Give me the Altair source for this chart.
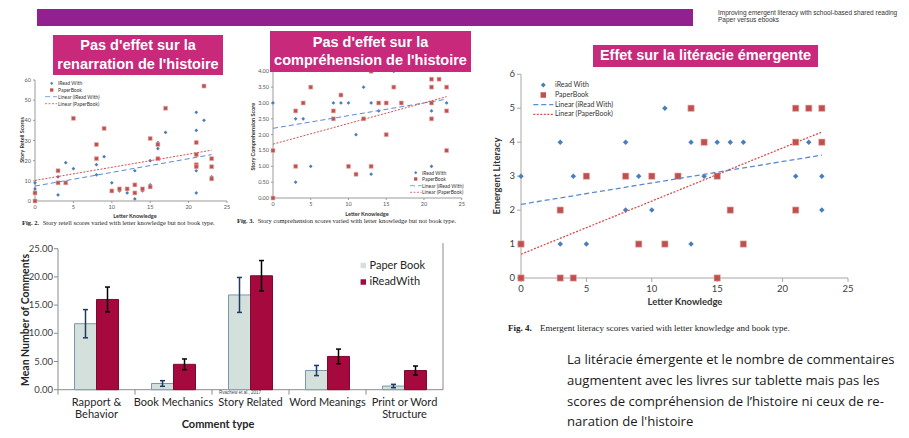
import altair as alt
import pandas as pd

# ================= data =================
letter_ticks = [0, 5, 10, 15, 20, 25]
trend_x = [0, 23]

# Fig. 2 - story retell scores
f2_iread_x = [0, 0, 3, 3, 4, 5, 8, 8, 9, 10, 11, 12, 13, 13, 14, 15, 15, 16, 16, 17, 21, 21, 21, 21, 22, 23]
f2_iread_y = [9, 6, 12, 3, 19, 16, 18, 13, 22, 9, 5, 4, 15, 1, 5, 20, 8, 29, 26, 34, 44, 35, 15, 4, 40, 12]
f2_paper_x = [0, 0, 3, 3, 4, 5, 8, 8, 9, 10, 11, 12, 13, 13, 14, 15, 15, 16, 16, 17, 21, 21, 21, 21, 22, 23, 23, 23]
f2_paper_y = [4, 0, 15, 9, 9, 41, 28, 21, 36, 5, 6, 6, 8, 4, 6, 31, 7, 28, 21, 46, 29, 23, 18, 17, 57, 21, 17, 11]
f2_yticks = [0, 10, 20, 30, 40, 50, 60]
f2_ylabels = ["0", "10", "20", "30", "40", "50", "60"]
f2_trend_iread = [7.4, 23.0]
f2_trend_paper = [10.2, 25.2]

# Fig. 3 - story comprehension scores
f3_iread_x = [0, 3, 3, 4, 5, 8, 9, 10, 11, 12, 13, 13, 14, 16, 21, 21, 21, 23]
f3_iread_y = [3, 2.5, 0.5, 2.5, 1, 3, 3, 3, 2, 3.5, 3, 0.75, 2.75, 4, 3, 2.75, 1, 3]
f3_paper_x = [0, 0, 3, 3, 4, 5, 8, 8, 9, 10, 11, 12, 13, 13, 14, 15, 15, 16, 17, 21, 21, 21, 21, 22, 23, 23, 23]
f3_paper_y = [1.5, 0, 2.75, 1, 3, 3.5, 2.75, 2.5, 3.25, 1, 0.75, 2.5, 4, 1, 3, 3, 2, 3.5, 3, 3.75, 3.5, 3, 2.5, 3.75, 3.5, 2.75, 1.5]
f3_yticks = [0, 0.5, 1, 1.5, 2, 2.5, 3, 3.5, 4]
f3_ylabels = ["0.00", "0.50", "1.00", "1.50", "2.00", "2.50", "3.00", "3.50", "4.00"]
f3_trend_iread = [2.2, 3.12]
f3_trend_paper = [1.7, 3.2]

# Fig. 4 - emergent literacy
f4_iread_x = [0, 3, 3, 4, 5, 8, 8, 9, 10, 11, 13, 13, 14, 15, 16, 17, 21, 22, 23, 23]
f4_iread_y = [3, 4, 1, 3, 1, 4, 2, 3, 2, 5, 4, 1, 3, 4, 4, 4, 3, 4, 3, 2]
f4_paper_x = [0, 0, 3, 3, 4, 5, 8, 9, 10, 11, 12, 13, 14, 15, 15, 16, 17, 21, 21, 21, 22, 23, 23]
f4_paper_y = [1, 0, 2, 0, 0, 3, 3, 1, 3, 1, 3, 5, 4, 3, 0, 2, 1, 5, 4, 2, 5, 5, 4]
f4_yticks = [0, 1, 2, 3, 4, 5, 6]
f4_ylabels = ["0", "1", "2", "3", "4", "5", "6"]
f4_trend_iread = [2.17, 3.62]
f4_trend_paper = [0.70, 4.30]

# Bar chart - comments by type
categories = ["Rapport &\nBehavior", "Book Mechanics", "Story Related", "Word Meanings", "Print or Word\nStructure"]
paper_mean = [11.7, 1.1, 16.8, 3.4, 0.65]
paper_err = [2.5, 0.5, 3.1, 0.9, 0.3]
iread_mean = [16.0, 4.5, 20.2, 5.9, 3.4]
iread_err = [2.2, 0.95, 2.7, 1.3, 0.8]
bar_yticks = [0, 5, 10, 15, 20, 25]
bar_ylabels = ["0.00", "5.00", "10.00", "15.00", "20.00", "25.00"]

# ================= styling helpers =================
BLUE = "#4a7ebb"
RED = "#c0504d"
PINK = "#c8297b"
PURPLE = "#93208f"
ONE = pd.DataFrame({"k": [0]})


def P(v):  # page pixel -> canvas pixel (8px page margin)
    return v - 8


def vtext(text, x, y, size, font="Lato", **kw):
    return alt.Chart(ONE).mark_text(text=text, fontSize=size, font=font, **kw).encode(
        x=alt.value(P(x)), y=alt.value(P(y)))


def vrect(x0, x1, y0, y1, color):
    return alt.Chart(ONE).mark_rect(color=color).encode(
        x=alt.value(P(x0)), x2=alt.value(P(x1)), y=alt.value(P(y0)), y2=alt.value(P(y1)))


def vrule(x0, x1, y0, y1, color, width=1.0, dash=None):
    kw = {"strokeDash": dash} if dash else {}
    return alt.Chart(ONE).mark_rule(color=color, strokeWidth=width, **kw).encode(
        x=alt.value(P(x0)), x2=alt.value(P(x1)), y=alt.value(P(y0)), y2=alt.value(P(y1)))


def vpoint(x, y, shape, size, color):
    return alt.Chart(ONE).mark_point(shape=shape, size=size, filled=True, color=color, opacity=1).encode(
        x=alt.value(P(x)), y=alt.value(P(y)))


def scatter_panel(c, ix, iy, px_, py_, t_i, t_p, yticks, ylabels, ymax):
    sx = alt.Scale(domain=[0, 25], range=[P(c["x0"]), P(c["x1"])], nice=False, zero=False)
    sy = alt.Scale(domain=[0, ymax], range=[P(c["yb"]), P(c["yt"])], nice=False, zero=False)

    def X(f):
        return alt.X(f, type="quantitative", scale=sx, axis=None)

    def Y(f):
        return alt.Y(f, type="quantitative", scale=sy, axis=None)

    frame = pd.DataFrame({"a": [0], "b": [25], "c": [0], "d": [ymax]})
    xt = pd.DataFrame({"v": letter_ticks, "z": [0] * len(letter_ticks),
                       "lab": [str(t) for t in letter_ticks]})
    yt = pd.DataFrame({"v": yticks, "z": [0] * len(yticks), "lab": ylabels})
    di = pd.DataFrame({"x": ix, "y": iy})
    dp = pd.DataFrame({"x": px_, "y": py_})
    ti = pd.DataFrame({"x": trend_x, "y": t_i})
    tp = pd.DataFrame({"x": trend_x, "y": t_p})
    ac = c["axis_color"]
    tk = c["tick"]
    layers = [
        alt.Chart(frame).mark_rule(color=ac).encode(x=X("a"), x2=alt.X2("b"), y=Y("c")),
        alt.Chart(frame).mark_rule(color=ac).encode(x=X("a"), y=Y("c"), y2=alt.Y2("d")),
        alt.Chart(xt).mark_rule(color=ac, y2Offset=tk).encode(x=X("v"), y=Y("z"), y2=alt.Y2("z")),
        alt.Chart(yt).mark_rule(color=ac, x2Offset=-tk).encode(x=X("z"), x2=alt.X2("z"), y=Y("v")),
        alt.Chart(xt).mark_text(baseline="top", dy=tk + 2, fontSize=c["fs"], font="Lato",
                                color=c["label_color"]).encode(x=X("v"), y=Y("z"), text="lab:N"),
        alt.Chart(yt).mark_text(align="right", baseline="middle", dx=-(tk + 2), fontSize=c["fs"],
                                font="Lato", color=c["label_color"]).encode(x=X("z"), y=Y("v"), text="lab:N"),
        alt.Chart(di).mark_point(shape="diamond", filled=True, opacity=1, color=BLUE,
                                 size=c["dsize"]).encode(x=X("x"), y=Y("y")),
        alt.Chart(dp).mark_point(shape="square", filled=True, opacity=1, color=RED,
                                 stroke="#e8b4b2", strokeWidth=0.6,
                                 size=c["ssize"]).encode(x=X("x"), y=Y("y")),
        alt.Chart(ti).mark_line(color="#5a8ad0", strokeDash=[5, 3], strokeWidth=c["lw"]).encode(
            x=X("x"), y=Y("y")),
        alt.Chart(tp).mark_line(color="#d6504e", strokeDash=[2, 1.5], strokeWidth=c["lw"]).encode(
            x=X("x"), y=Y("y")),
    ]
    return alt.layer(*layers)


def legend(x_sym, x_line0, x_line1, x_text, ys, fs, dsize, ssize, lw):
    y1, y2, y3, y4 = ys
    return [
        vpoint(x_sym, y1, "diamond", dsize, BLUE),
        vpoint(x_sym, y2, "square", ssize, RED),
        vrule(x_line0, x_line1, y3, y3, "#5a8ad0", lw, [5, 3]),
        vrule(x_line0, x_line1, y4, y4, "#d6504e", lw, [2, 1.5]),
        vtext("iRead With", x_text, y1, fs, align="left", baseline="middle", color="#333333"),
        vtext("PaperBook", x_text, y2, fs, align="left", baseline="middle", color="#333333"),
        vtext("Linear (iRead With)", x_text, y3, fs, align="left", baseline="middle", color="#333333"),
        vtext("Linear (PaperBook)", x_text, y4, fs, align="left", baseline="middle", color="#333333"),
    ]


# ================= panels =================
small = dict(axis_color="#9a9a9a", tick=2, fs=5.5, label_color="#555555", dsize=14, ssize=16, lw=1)

fig2 = scatter_panel(dict(small, x0=35, x1=227, yb=201, yt=80), f2_iread_x, f2_iread_y,
                     f2_paper_x, f2_paper_y, f2_trend_iread, f2_trend_paper, f2_yticks, f2_ylabels, 60)
fig3 = scatter_panel(dict(small, x0=273, x1=461.7, yb=198, yt=71.3), f3_iread_x, f3_iread_y,
                     f3_paper_x, f3_paper_y, f3_trend_iread, f3_trend_paper, f3_yticks, f3_ylabels, 4)
fig4 = scatter_panel(dict(axis_color="#a6a6a6", tick=4, fs=9.5, label_color="#404040", dsize=30,
                          ssize=40, lw=1.3, x0=521, x1=848, yb=278, yt=74.3),
                     f4_iread_x, f4_iread_y, f4_paper_x, f4_paper_y, f4_trend_iread, f4_trend_paper,
                     f4_yticks, f4_ylabels, 6)

# ---- bar chart ----
sxb = alt.Scale(domain=categories, range=[P(58), P(443)], paddingInner=0, paddingOuter=0)
syb = alt.Scale(domain=[0, 25], range=[P(389.7), P(248.7)], nice=False, zero=False)
bar_df = pd.DataFrame({
    "cat": categories,
    "paper": paper_mean,
    "paper_lo": [m - e for m, e in zip(paper_mean, paper_err)],
    "paper_hi": [m + e for m, e in zip(paper_mean, paper_err)],
    "iread": iread_mean,
    "iread_lo": [m - e for m, e in zip(iread_mean, iread_err)],
    "iread_hi": [m + e for m, e in zip(iread_mean, iread_err)],
    "z": [0] * len(categories),
})
byt = pd.DataFrame({"v": bar_yticks, "lab": bar_ylabels})


def BX(bp=None):
    if bp is None:
        return alt.X("cat:N", scale=sxb, axis=None)
    return alt.X("cat:N", scale=sxb, axis=None, bandPosition=bp)


def BY(f):
    return alt.Y(f, type="quantitative", scale=syb, axis=None)


bar_layers = [
    # axes
    alt.Chart(byt).mark_rule(color="#8c8c8c").encode(x=alt.value(P(58)), x2=alt.value(P(54)), y=BY("v")),
    alt.Chart(pd.DataFrame({"a": [0], "b": [25]})).mark_rule(color="#8c8c8c").encode(
        x=alt.value(P(58)), y=BY("a"), y2=alt.Y2("b")),
    alt.Chart(pd.DataFrame({"a": [0]})).mark_rule(color="#8c8c8c").encode(
        x=alt.value(P(58)), x2=alt.value(P(443)), y=BY("a")),
    alt.Chart(bar_df).mark_rule(color="#8c8c8c", y2Offset=5).encode(x=BX(0), y=BY("z"), y2=alt.Y2("z")),
    alt.Chart(byt).mark_text(align="right", baseline="middle", fontSize=9.5, font="Lato",
                             color="#404040").encode(x=alt.value(P(53)), y=BY("v"), text="lab:N"),
    alt.Chart(bar_df).mark_text(baseline="top", fontSize=11, font="Lato", lineBreak="\n", lineHeight=12.5,
                                color="#262626").encode(x=BX(), y=alt.value(P(396.5)), text="cat:N"),
    # bars
    alt.Chart(bar_df).mark_bar(width=22, xOffset=-11, color="#d3e0dc", stroke="#7c97ad",
                               strokeWidth=1).encode(x=BX(), y=BY("paper"), y2=alt.Y2("z")),
    alt.Chart(bar_df).mark_bar(width=22, xOffset=11, color="#a6093d", stroke="#7d0a2e",
                               strokeWidth=1).encode(x=BX(), y=BY("iread"), y2=alt.Y2("z")),
    # error bars
    alt.Chart(bar_df).mark_rule(color="#1f3a63", strokeWidth=1.5, xOffset=-11).encode(
        x=BX(), y=BY("paper_lo"), y2=alt.Y2("paper_hi")),
    alt.Chart(bar_df).mark_tick(orient="horizontal", size=5, thickness=1.5, color="#1f3a63",
                                xOffset=-11, opacity=1).encode(x=BX(), y=BY("paper_lo")),
    alt.Chart(bar_df).mark_tick(orient="horizontal", size=5, thickness=1.5, color="#1f3a63",
                                xOffset=-11, opacity=1).encode(x=BX(), y=BY("paper_hi")),
    alt.Chart(bar_df).mark_rule(color="#000000", strokeWidth=1.5, xOffset=11).encode(
        x=BX(), y=BY("iread_lo"), y2=alt.Y2("iread_hi")),
    alt.Chart(bar_df).mark_tick(orient="horizontal", size=5, thickness=1.5, color="#000000",
                                xOffset=11, opacity=1).encode(x=BX(), y=BY("iread_lo")),
    alt.Chart(bar_df).mark_tick(orient="horizontal", size=5, thickness=1.5, color="#000000",
                                xOffset=11, opacity=1).encode(x=BX(), y=BY("iread_hi")),
]
bars = alt.layer(*bar_layers)

# ================= decorations / text =================
deco = [
    # header
    vrect(37, 693, 9, 26, PURPLE),
    vtext("Improving emergent literacy with school-based shared reading", 718, 13, 6.5,
          font="Liberation Sans", align="left", baseline="middle", color="#333333"),
    vtext("Paper versus ebooks", 718, 20, 6.5, font="Liberation Sans", align="left",
          baseline="middle", color="#333333"),
    # fig 2 texts
    vtext("Letter Knowledge", 135, 216, 5.5, fontWeight="bold", color="#333333"),
    vtext("Story Retell Scores", 22, 140, 5.5, fontWeight="bold", angle=270, color="#333333"),
    vtext("Fig. 2.", 22, 223, 6.5, font="Liberation Serif", fontWeight="bold", align="left",
          baseline="middle", color="#222222"),
    vtext("Story retell scores varied with letter knowledge but not book type.", 42.7, 223, 6.5,
          font="Liberation Serif", align="left", baseline="middle", color="#222222"),
    # fig 3 texts
    vtext("Letter Knowledge", 367, 214, 5.5, fontWeight="bold", color="#333333"),
    vtext("Story Comprehension Score", 253, 136.7, 5.5, fontWeight="bold", angle=270, color="#333333"),
    vtext("Fig. 3.", 237, 221, 6.5, font="Liberation Serif", fontWeight="bold", align="left",
          baseline="middle", color="#222222"),
    vtext("Story comprehension scores varied with letter knowledge but not book type.", 257.7, 221, 6.5,
          font="Liberation Serif", align="left", baseline="middle", color="#222222"),
    # fig 4 texts
    vtext("Letter Knowledge", 685, 302, 9.5, fontWeight="bold", baseline="middle", color="#333333"),
    vtext("Emergent Literacy", 497, 176, 9.5, fontWeight="bold", angle=270, baseline="middle",
          color="#333333"),
    vtext("Fig. 4.", 508, 328, 9, font="Liberation Serif", fontWeight="bold", align="left",
          baseline="middle", color="#222222"),
    vtext("Emergent literacy scores varied with letter knowledge and book type.", 540, 328, 9,
          font="Liberation Serif", align="left", baseline="middle", color="#222222"),
    # bar chart texts
    vtext("Mean Number of Comments", 26, 320, 10.5, fontWeight="bold", angle=270, baseline="middle",
          color="#262626"),
    vtext("Comment type", 218, 424.5, 11, fontWeight="bold", baseline="middle", color="#262626"),
    vtext("Rvachew et al., 2017", 240, 392.5, 4.5, font="Liberation Sans", baseline="middle",
          color="#444444"),
    vrule(443, 443, 243, 390, "#8c8c8c"),
    vpoint(363.3, 265.5, "square", 30, "#d3e0dc"),
    vpoint(363.3, 282, "square", 30, "#a6093d"),
    vtext("Paper Book", 369.5, 265.5, 11, align="left", baseline="middle", color="#262626"),
    vtext("iReadWith", 369.5, 282, 11, align="left", baseline="middle", color="#262626"),
    # conclusion text
    vtext("La litéracie émergente et le nombre de commentaires", 567, 360, 13.1, font="Open Sans",
          align="left", baseline="middle", color="#1a1a1a"),
    vtext("augmentent avec les livres sur tablette mais pas les", 567, 381, 13.1, font="Open Sans",
          align="left", baseline="middle", color="#1a1a1a"),
    vtext("scores de compréhension de l’histoire ni ceux de re-", 567, 402, 13.1, font="Open Sans",
          align="left", baseline="middle", color="#1a1a1a"),
    vtext("naration de l'histoire", 567, 422, 13.1, font="Open Sans", align="left",
          baseline="middle", color="#1a1a1a"),
    # title boxes
    vrect(53, 223, 35, 75, PINK),
    vtext("Pas d'effet sur la", 138, 46, 14.5, font="Liberation Sans", fontWeight="bold",
          baseline="middle", color="white"),
    vtext("renarration de l'histoire", 138, 65, 14.5, font="Liberation Sans", fontWeight="bold",
          baseline="middle", color="white"),
    vrect(270, 471, 31, 72, PINK),
    vtext("Pas d'effet sur la", 370.5, 42.5, 14.5, font="Liberation Sans", fontWeight="bold",
          baseline="middle", color="white"),
    vtext("compréhension de l'histoire", 370.5, 61, 14.5, font="Liberation Sans", fontWeight="bold",
          baseline="middle", color="white"),
    vrect(593, 818, 45, 67, PINK),
    vtext("Effet sur la litéracie émergente", 705.5, 56, 14.5, font="Liberation Sans",
          fontWeight="bold", baseline="middle", color="white"),
]
deco += legend(51.7, 45, 57, 58, (83.3, 90, 96.7, 103.7), 5, 10, 11, 0.8)
deco += legend(415.7, 410, 421.7, 422, (172.7, 179, 185.7, 192.3), 5, 10, 11, 0.8)
deco += legend(543.3, 533.3, 553.3, 555, (85, 95, 104.7, 114.3), 7, 24, 30, 1.2)

chart = alt.layer(fig2, fig3, fig4, bars, *deco).resolve_scale(
    x="independent", y="independent"
).properties(
    width=893, height=422, padding=0, autosize="none", background="white"
).configure_view(stroke=None)

chart.save("out.html", embed_options={"renderer": "svg", "actions": False})
